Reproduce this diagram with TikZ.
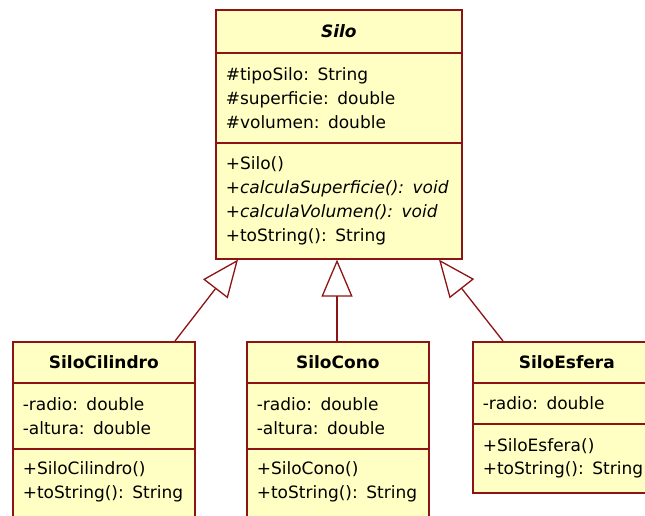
\documentclass[tikz,border=0pt]{standalone}
\usepackage{fontspec}
\setmainfont{DejaVu Sans}
\usetikzlibrary{arrows.meta,calc}
\definecolor{umlline}{RGB}{140,20,20}
\definecolor{umlfill}{RGB}{255,255,196}
\newcommand\umlfont{\fontsize{17}{24}\selectfont}
\tikzset{
  compart/.style={draw=umlline, fill=umlfill, line width=1.6pt, rectangle,
    anchor=north west, inner xsep=10pt, inner ysep=0pt, align=left, font=\umlfont},
  classtitle/.style={compart, align=center, font=\umlfont\bfseries},
  % compartment that runs on below the lower edge of the page
  opencompart/.style={compart, text height=26pt, text depth=80pt},
  inherit/.style={draw=umlline, line width=1.3pt,
    -{Triangle[open, length=37pt, width=31pt, fill=white]}},
}
\begin{document}
\begin{tikzpicture}[x=1pt,y=-1pt]
  \useasboundingbox (0,0) rectangle (645,515);
  \fill[white] (0,0) rectangle (645,515);
  \clip (0,0) rectangle (645,515);

  % abstract base class
  \node[classtitle, text width=226pt, minimum height=43pt] (silo-h) at (215,9) {\textit{Silo}};
  \node[compart, text width=226pt, minimum height=90pt] (silo-a) at (215,52)
    {\#tipoSilo: String\\\#superficie: double\\\#volumen: double};
  \node[compart, text width=226pt, minimum height=116pt] (silo-m) at (215,142)
    {+Silo()\\\textit{+calculaSuperficie(): void}\\\textit{+calculaVolumen(): void}\\+toString(): String};

  % SiloCilindro
  \node[classtitle, text width=162pt, minimum height=41pt] (cil-h) at (12,341) {SiloCilindro};
  \node[compart, text width=162pt, minimum height=66pt] (cil-a) at (12,382)
    {-radio: double\\-altura: double};
  \node[opencompart, text width=162pt] (cil-m) at (12,448)
    {+SiloCilindro()\\+toString(): String};

  % SiloCono
  \node[classtitle, text width=162pt, minimum height=41pt] (cono-h) at (246,341) {SiloCono};
  \node[compart, text width=162pt, minimum height=66pt] (cono-a) at (246,382)
    {-radio: double\\-altura: double};
  \node[opencompart, text width=162pt] (cono-m) at (246,448)
    {+SiloCono()\\+toString(): String};

  % SiloEsfera
  \node[classtitle, text width=168pt, minimum height=41pt] (esf-h) at (472,341) {SiloEsfera};
  \node[compart, text width=168pt, minimum height=41pt] (esf-a) at (472,382)
    {-radio: double};
  \node[compart, text width=168pt, minimum height=69pt] (esf-m) at (472,423)
    {+SiloEsfera()\\+toString(): String};

  % generalisation arrows
  \draw[inherit] ([xshift=163pt]cil-h.north west) -- ([xshift=23pt]silo-m.south west);
  \draw[inherit] ([xshift=91pt]cono-h.north west) -- ([xshift=122pt]silo-m.south west);
  \draw[inherit] ([xshift=31pt]esf-h.north west) -- ([xshift=224pt]silo-m.south west);
\end{tikzpicture}
\end{document}
